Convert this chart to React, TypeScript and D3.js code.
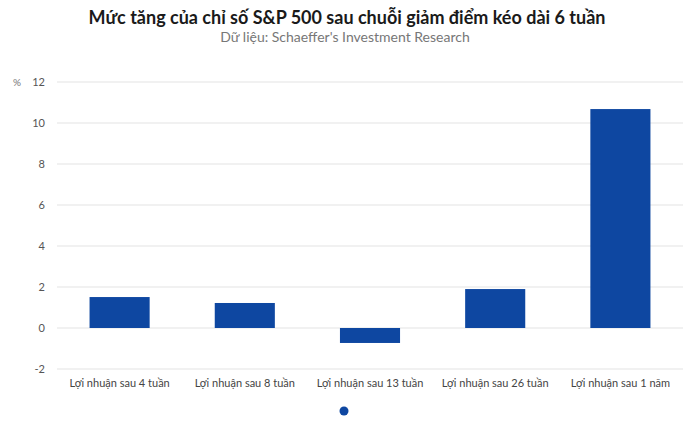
import React from "react";
import * as d3 from "d3";

const categories = [
  "Lợi nhuận sau 4 tuần",
  "Lợi nhuận sau 8 tuần",
  "Lợi nhuận sau 13 tuần",
  "Lợi nhuận sau 26 tuần",
  "Lợi nhuận sau 1 năm",
];
const values = [1.51, 1.22, -0.73, 1.9, 10.68];
const yTicks = [-2, 0, 2, 4, 6, 8, 10, 12];
const title = "Mức tăng của chỉ số S&P 500 sau chuỗi giảm điểm kéo dài 6 tuần";
const subtitle = "Dữ liệu: Schaeffer's Investment Research";

export default function App() {
  const W = 690, H = 429;
  const left = 57, right = 683, top = 82, bottom = 369;
  const x = d3.scaleBand<string>().domain(categories).range([left, right]).paddingInner(0.52).paddingOuter(0.26);
  const y = d3.scaleLinear().domain([-2, 12]).range([bottom, top]);
  const font = "Lato, 'Open Sans', sans-serif";
  return (
    <svg width={W} height={H} style={{ position: "absolute", left: 0, top: 0, fontFamily: font }}>
      <rect width={W} height={H} fill="#fff" />
      <text x={W / 2 + 2} y={24} textAnchor="middle" fontSize={18} fontWeight={700} fill="#1a1a1a">{title}</text>
      <text x={W / 2} y={42} textAnchor="middle" fontSize={14} fill="#777">{subtitle}</text>
      {yTicks.map((t) => (
        <g key={t}>
          <line x1={left} x2={right} y1={y(t)} y2={y(t)} stroke="#e3e3e3" strokeWidth={1} />
          <text x={45} y={y(t) + 4} textAnchor="end" fontSize={11} fill="#555">{t}</text>
        </g>
      ))}
      <text x={17} y={y(12) + 4} textAnchor="middle" fontSize={10} fill="#777">%</text>
      {categories.map((c, i) => (
        <rect key={c} x={x(c)} width={x.bandwidth()} y={y(Math.max(0, values[i]))}
          height={Math.abs(y(values[i]) - y(0))} fill="#0e47a1" />
      ))}
      {categories.map((c) => (
        <text key={c} x={(x(c) as number) + x.bandwidth() / 2} y={387} textAnchor="middle" fontSize={11} fill="#444">{c}</text>
      ))}
      <circle cx={344} cy={411} r={4.5} fill="#0e47a1" />
    </svg>
  );
}
